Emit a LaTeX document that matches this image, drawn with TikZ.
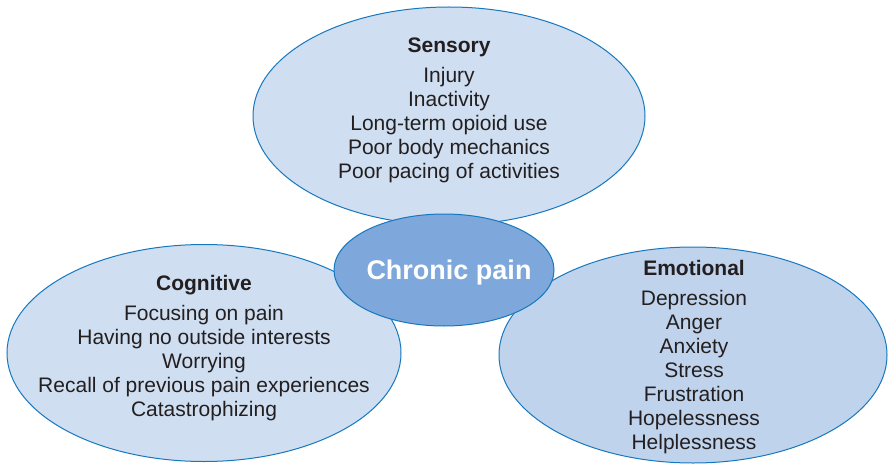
\documentclass[tikz,border=0pt]{standalone}
\usepackage{fontspec}
\setmainfont{Liberation Sans}
\usetikzlibrary{shapes.geometric}
\definecolor{outerfill}{RGB}{207,222,240}
\definecolor{emofill}{RGB}{192,211,236}
\definecolor{centerfill}{RGB}{126,167,219}
\definecolor{edge}{RGB}{22,120,190}
\definecolor{txt}{RGB}{35,31,32}
\tikzset{
  bubble/.style={ellipse, draw=edge, line width=1pt, fill=outerfill, inner sep=0pt},
  ttl/.style={font=\fontsize{21}{24}\selectfont\bfseries, text=txt, inner sep=0pt},
  items/.style={font=\fontsize{21}{24}\selectfont, text=txt, align=center, inner sep=0pt}
}
\begin{document}
\begin{tikzpicture}[x=1pt,y=-1pt]
\useasboundingbox (0,0) rectangle (888,468);
\node[bubble, minimum width=392pt, minimum height=218pt] (sens) at (449,116) {};
\node[bubble, minimum width=394pt, minimum height=217pt] (cog) at (204,353) {};
\node[bubble, fill=emofill, minimum width=388pt, minimum height=216pt] (emo) at (693,355) {};
\node[bubble, fill=centerfill, minimum width=220pt, minimum height=112pt] (cp) at (444,270) {};
\node[text=white, font=\fontsize{27}{30}\selectfont\bfseries, inner sep=0pt] (cpt) at (449,273) {Chronic pain};
\node[ttl] (senst) at (449,47) {Sensory};
\node[items, anchor=north] (sensl) at (449,67) {Injury\\Inactivity\\Long-term opioid use\\Poor body mechanics\\Poor pacing of activities};
\node[ttl] (cogt) at (204,285) {Cognitive};
\node[items, anchor=north] (cogl) at (204,305) {Focusing on pain\\Having no outside interests\\Worrying\\Recall of previous pain experiences\\Catastrophizing};
\node[ttl] (emot) at (694,268) {Emotional};
\node[items, anchor=north] (emol) at (694,290.5) {Depression\\Anger\\Anxiety\\Stress\\Frustration\\Hopelessness\\Helplessness};
\end{tikzpicture}
\end{document}
